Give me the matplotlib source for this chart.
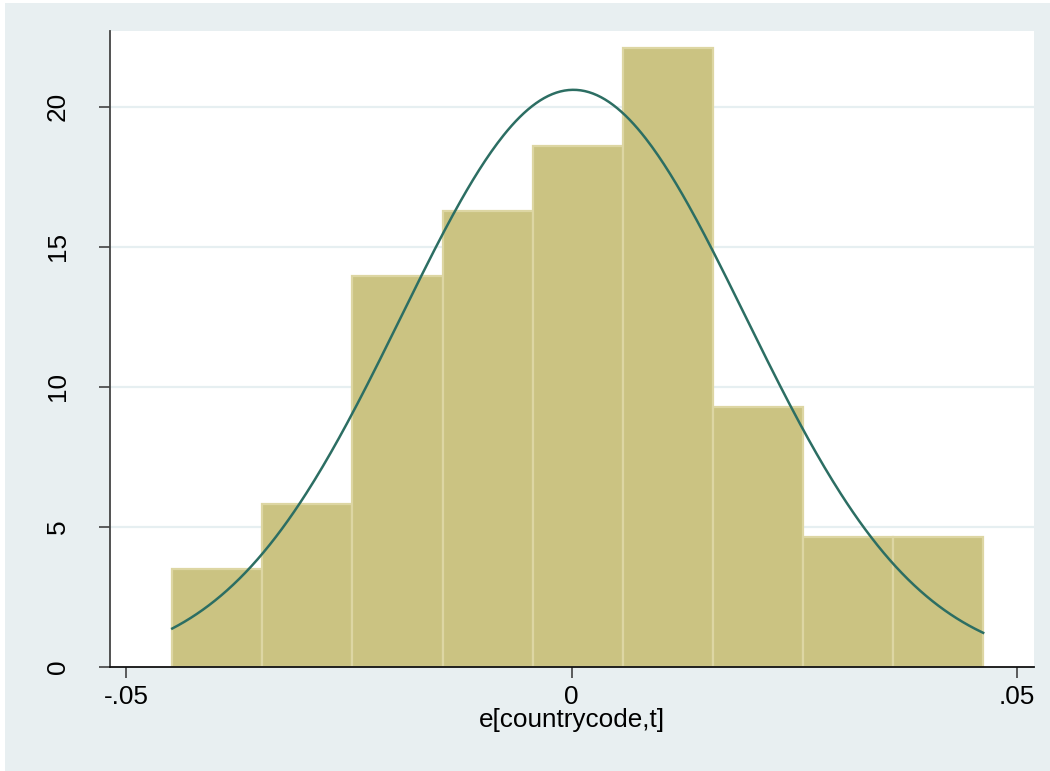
import numpy as np
import matplotlib.pyplot as plt
from matplotlib.patches import Rectangle

plt.rcParams['font.family'] = ['Liberation Sans', 'DejaVu Sans']

# residual histogram: counts per bin, bins of equal width
bin_start = -0.04485
bin_width = 0.010119
counts = [3, 5, 12, 14, 16, 19, 8, 4, 4]

# normal density fitted to the residuals
mu = 0.0002
sigma = 0.019357

xticks = [-0.05, 0, 0.05]
xticklabels = ["-.05", "0", ".05"]
yticks = [0, 5, 10, 15, 20]

n_obs = sum(counts)
edges = bin_start + bin_width * np.arange(len(counts) + 1)
density = np.array(counts) / (n_obs * bin_width)

bg = "#e8eff1"
fig = plt.figure(figsize=(10.5, 7.71), dpi=100, facecolor=bg)
# thin white margin on the left and top of the graph region
fig.add_artist(Rectangle((0, 0), 5 / 1050, 1, transform=fig.transFigure,
                         facecolor="white", edgecolor="none", zorder=-10))
fig.add_artist(Rectangle((0, 1 - 3 / 771), 1, 3 / 771, transform=fig.transFigure,
                         facecolor="white", edgecolor="none", zorder=-10))

ax = fig.add_axes([0.10476, 0.13489, 0.88, 0.8249])
ax.set_facecolor("white")

for y in yticks[1:]:
    ax.axhline(y, color="#e6eff1", lw=1.6, zorder=0)

ax.bar(edges[:-1], density, width=bin_width, align="edge",
       color="#cbc382", edgecolor="#ddd6a3", linewidth=1.6, zorder=2)

xs = np.linspace(edges[0], edges[-1], 400)
pdf = np.exp(-0.5 * ((xs - mu) / sigma) ** 2) / (sigma * np.sqrt(2 * np.pi))
ax.plot(xs, pdf, color="#2c6e63", lw=1.8, zorder=3)

ax.set_xlim(-0.05184, 0.05193)
ax.set_ylim(0, 22.71)

ax.set_xticks(xticks)
ax.set_xticklabels(xticklabels)
ax.set_yticks(yticks)
ax.set_yticklabels([str(v) for v in yticks], rotation=90, va="center")

ax.tick_params(axis="x", length=8, width=1.1, color="#333333", pad=5, labelsize=18.8)
ax.tick_params(axis="y", length=8, width=1.1, color="#333333", pad=21, labelsize=18.8)

for side in ["top", "right"]:
    ax.spines[side].set_visible(False)
ax.spines["left"].set_color("#444444")
ax.spines["left"].set_linewidth(1.3)
ax.spines["bottom"].set_color("#111111")
ax.spines["bottom"].set_linewidth(1.3)

ax.set_xlabel("e[countrycode,t]", fontsize=18.8, labelpad=-1)

fig.savefig("out.png", dpi=100, facecolor=bg)
